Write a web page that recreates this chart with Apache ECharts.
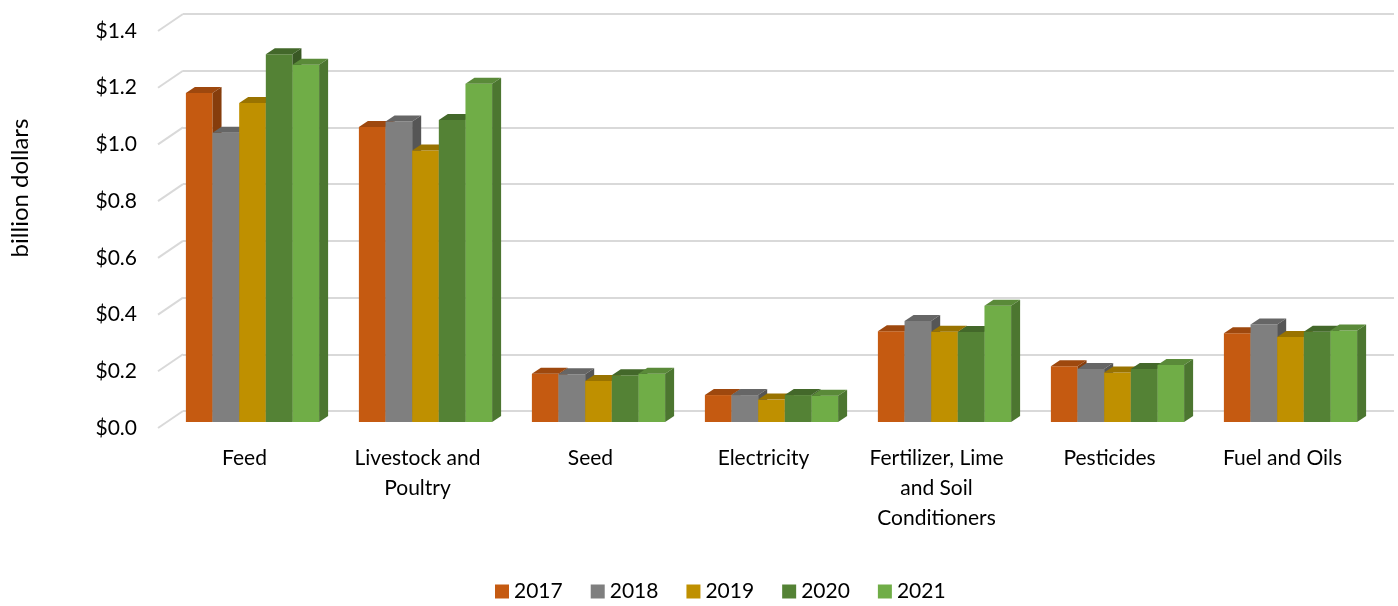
<!DOCTYPE html>
<html>
<head>
<meta charset="utf-8">
<script src="https://cdn.jsdelivr.net/npm/echarts@6/dist/echarts.min.js"></script>
<style>
  html, body { margin: 0; padding: 0; background: #fff; }
  #chart { width: 1398px; height: 606px; }
</style>
</head>
<body>
<div id="chart"></div>
<script>
const categories = ["Feed", "Livestock and\nPoultry", "Seed", "Electricity", "Fertilizer, Lime\nand Soil\nConditioners", "Pesticides", "Fuel and Oils"];
const years = ["2017", "2018", "2019", "2020", "2021"];
const v2017 = [1.16, 1.04, 0.17, 0.095, 0.32, 0.197, 0.313];
const v2018 = [1.02, 1.06, 0.168, 0.095, 0.356, 0.187, 0.344];
const v2019 = [1.125, 0.957, 0.145, 0.079, 0.318, 0.175, 0.30];
const v2020 = [1.297, 1.065, 0.165, 0.095, 0.317, 0.187, 0.318];
const v2021 = [1.26, 1.193, 0.17, 0.093, 0.41, 0.201, 0.323];
const yTicks = [0, 0.2, 0.4, 0.6, 0.8, 1.0, 1.2, 1.4];
const yTitle = "billion dollars";

const values = [v2017, v2018, v2019, v2020, v2021];
const colors = ["#C55A11", "#7F7F7F", "#BF9000", "#548235", "#70AD47"];
const font = "Lato, 'Open Sans', sans-serif";
const FS = 21;

// depth of the fake 3d box
const DEPTH_X = 25, DEPTH_Y = 17;
const BAR_DX = 9, BAR_DY = 6;
const PLOT_W = 1211, PLOT_H = 397;

function shade(hex, f) {
  const n = parseInt(hex.slice(1), 16);
  const r = Math.round(((n >> 16) & 255) * f);
  const g = Math.round(((n >> 8) & 255) * f);
  const b = Math.round((n & 255) * f);
  return `rgb(${r},${g},${b})`;
}

function barRenderer(idx) {
  return (params, api) => {
    const cat = api.value(0);
    const base = api.coord([cat, 0]);
    const top = api.coord([cat, api.value(1)]);
    const band = api.size([1, 0])[0];
    const w = band * 0.154;
    const x = base[0] - (w * 5) / 2 + idx * w;
    const y0 = base[1], y1 = top[1];
    const c = colors[idx];
    return {
      type: "group",
      children: [
        { type: "rect", shape: { x: x, y: y1, width: w, height: y0 - y1 }, style: { fill: c } },
        {
          type: "polygon",
          shape: { points: [[x, y1], [x + BAR_DX, y1 - BAR_DY], [x + w + BAR_DX, y1 - BAR_DY], [x + w, y1]] },
          style: { fill: shade(c, 0.8) },
        },
        {
          type: "polygon",
          shape: { points: [[x + w, y1], [x + w + BAR_DX, y1 - BAR_DY], [x + w + BAR_DX, y0 - BAR_DY], [x + w, y0]] },
          style: { fill: shade(c, 0.68) },
        },
      ],
    };
  };
}

const chart = echarts.init(document.getElementById("chart"));
chart.setOption({
  animation: false,
  textStyle: { fontFamily: font },
  legend: {
    data: years,
    top: 581,
    left: 495,
    padding: 0,
    icon: "rect",
    itemWidth: 14,
    itemHeight: 14,
    itemGap: 28,
    textStyle: { fontSize: FS, color: "#000", fontFamily: font },
  },
  graphic: [
    {
      type: "text",
      x: 20,
      y: 188,
      rotation: Math.PI / 2,
      style: { text: yTitle, fontSize: 24, fill: "#000", fontFamily: font, align: "center", verticalAlign: "middle" },
    },
  ],
  grid: [
    { left: 158, top: 31, width: PLOT_W, height: PLOT_H },                      // front plane
    { left: 158 + DEPTH_X, top: 31 - DEPTH_Y, width: PLOT_W, height: PLOT_H },  // back wall
    { left: 166, top: 25, width: PLOT_W, height: PLOT_H },                      // bar plane
  ],
  xAxis: [
    {
      gridIndex: 0, type: "category", data: categories,
      axisLine: { show: false }, axisTick: { show: false },
      axisLabel: { fontSize: FS, color: "#000", lineHeight: 30, margin: 15, interval: 0, fontFamily: font },
    },
    { gridIndex: 1, type: "category", data: categories, show: false },
    { gridIndex: 2, type: "category", data: categories, show: false },
  ],
  yAxis: [
    {
      gridIndex: 0, type: "value", min: 0, max: 1.4, interval: 0.2,
      axisLine: { show: false }, axisTick: { show: false }, splitLine: { show: false },
      axisLabel: { fontSize: FS, color: "#000", margin: 21, formatter: (v) => "$" + v.toFixed(1), fontFamily: font },
    },
    {
      gridIndex: 1, type: "value", min: 0, max: 1.4, interval: 0.2,
      axisLine: { show: false }, axisTick: { show: false }, axisLabel: { show: false },
      splitLine: { show: true, lineStyle: { color: "#d9d9d9", width: 2 } },
    },
    { gridIndex: 2, type: "value", min: 0, max: 1.4, interval: 0.2, show: false, splitLine: { show: false } },
  ],
  series: [
    {
      type: "custom",
      name: "side wall",
      xAxisIndex: 0, yAxisIndex: 0,
      silent: true,
      data: yTicks.map((t) => [0, t]),
      renderItem: (params, api) => {
        const p = api.coord([0, api.value(1)]);
        const x0 = params.coordSys.x;
        return {
          type: "line",
          shape: { x1: x0, y1: p[1], x2: x0 + DEPTH_X, y2: p[1] - DEPTH_Y },
          style: { stroke: "#d9d9d9", lineWidth: 2 },
        };
      },
    },
    ...years.map((year, i) => ({
      type: "custom",
      name: year,
      xAxisIndex: 2, yAxisIndex: 2,
      itemStyle: { color: colors[i] },
      data: values[i].map((v, j) => [j, v]),
      renderItem: barRenderer(i),
    })),
  ],
});
</script>
</body>
</html>
